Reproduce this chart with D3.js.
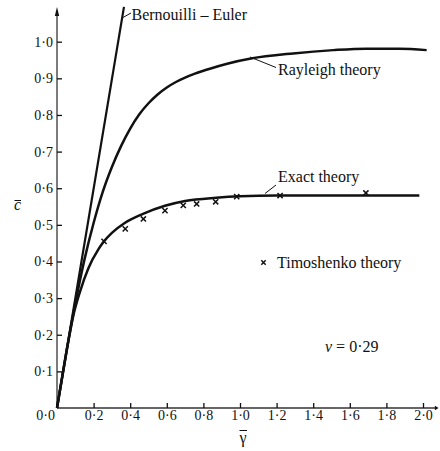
<!DOCTYPE html>
<html><head><meta charset="utf-8">
<script src="https://cdn.jsdelivr.net/npm/d3@7"></script>
<style>body{margin:0;background:#fff}svg{display:block}text{font-family:"Liberation Serif","Times New Roman",serif;fill:#111}</style>
</head><body>
<script>
// Data
const xTicks = [0.2,0.4,0.6,0.8,1.0,1.2,1.4,1.6,1.8,2.0];
const yTicks = [0.1,0.2,0.3,0.4,0.5,0.6,0.7,0.8,0.9,1.0];
const beGamma = [0, 0.366];
const beC     = [0, 1.095];
const rayGamma = [0,0.05,0.10,0.15,0.20,0.25,0.30,0.35,0.40,0.45,0.50,0.55,0.60,0.65,0.70,0.75,0.84,0.93,1.06,1.29,1.51,1.69,1.87,2.02];
const rayC     = [0,0.148,0.285,0.405,0.505,0.590,0.658,0.715,0.763,0.802,0.832,0.856,0.875,0.890,0.902,0.912,0.927,0.940,0.954,0.968,0.977,0.981,0.981,0.977];
const exGamma = [0,0.026,0.053,0.089,0.126,0.171,0.226,0.257,0.30,0.37,0.47,0.59,0.70,0.87,1.0,1.2,1.5,1.98];
const exC     = [0,0.078,0.158,0.252,0.318,0.381,0.433,0.455,0.478,0.505,0.530,0.552,0.565,0.574,0.578,0.580,0.580,0.580];
const timGamma = [0.257,0.373,0.472,0.590,0.690,0.763,0.867,0.982,1.219,1.688];
const timC     = [0.455,0.489,0.516,0.539,0.553,0.557,0.563,0.577,0.580,0.587];

const W = 440, H = 451;
const svg = d3.select("body").append("svg").attr("width", W).attr("height", H);
const x = d3.scaleLinear().domain([0, 2]).range([57, 423]);
const y = d3.scaleLinear().domain([0, 1]).range([408, 41.7]);
const fmt = v => d3.format(".1f")(v).replace(".", "·");

// axes lines with arrows
svg.append("line").attr("x1", x(0)).attr("x2", x(2.07)).attr("y1", y(0)).attr("y2", y(0))
  .attr("stroke", "#333").attr("stroke-width", 1.4);
svg.append("line").attr("x1", x(0)).attr("x2", x(0)).attr("y1", y(0)).attr("y2", y(1.07))
  .attr("stroke", "#444").attr("stroke-width", 1.4);
svg.append("path").attr("d", `M${x(0)},${y(1.095)}L${x(0)-2.2},${y(1.07)}L${x(0)+2.2},${y(1.07)}Z`).attr("fill", "#111");
svg.append("path").attr("d", `M${x(2.085)},${y(0)}L${x(2.065)},${y(0)-2.2}L${x(2.065)},${y(0)+2.2}Z`).attr("fill", "#111");

const gx = svg.append("g").attr("transform", `translate(0,${y(0)})`)
  .call(d3.axisBottom(x).tickValues(xTicks).tickSize(-5).tickPadding(2).tickFormat(fmt));
const gy = svg.append("g").attr("transform", `translate(${x(0)},0)`)
  .call(d3.axisLeft(y).tickValues(yTicks).tickSize(-5).tickPadding(4).tickFormat(fmt));
[gx, gy].forEach(g => {
  g.select(".domain").remove();
  g.selectAll(".tick line").attr("stroke", "#111").attr("stroke-width", 1.3);
  g.selectAll(".tick text").style("font-family", '"Liberation Serif",serif').style("font-size", "14px").attr("fill", "#111");
});
svg.append("text").attr("x", 55).attr("y", 420).attr("text-anchor", "end").style("font-size", "14px").text(fmt(0));

// axis titles
svg.append("text").attr("x", 17.5).attr("y", 210).attr("text-anchor", "middle").style("font-size", "16px").style("font-style", "italic").text("c");
svg.append("line").attr("x1", 14.5).attr("x2", 21).attr("y1", 200.5).attr("y2", 200.5).attr("stroke", "#111").attr("stroke-width", 1);
svg.append("text").attr("x", 243).attr("y", 443).attr("text-anchor", "middle").style("font-size", "16px").text("γ");
svg.append("line").attr("x1", 239.5).attr("x2", 247).attr("y1", 430.5).attr("y2", 430.5).attr("stroke", "#111").attr("stroke-width", 1);

// curves
const line = d3.line().x(d => x(d[0])).y(d => y(d[1])).curve(d3.curveMonotoneX);
const zip = (a, b) => a.map((v, i) => [v, b[i]]);
svg.append("path").datum(zip(beGamma, beC)).attr("d", d3.line().x(d => x(d[0])).y(d => y(d[1])))
  .attr("fill", "none").attr("stroke", "#111").attr("stroke-width", 2.2);
svg.append("path").datum(zip(rayGamma, rayC)).attr("d", line)
  .attr("fill", "none").attr("stroke", "#111").attr("stroke-width", 2.5);
svg.append("path").datum(zip(exGamma, exC)).attr("d", line)
  .attr("fill", "none").attr("stroke", "#111").attr("stroke-width", 2.5);

// Timoshenko crosses
const cross = "M-2.6,-2.6L2.6,2.6M-2.6,2.6L2.6,-2.6";
svg.append("g").selectAll("path").data(zip(timGamma, timC)).join("path")
  .attr("transform", d => `translate(${x(d[0])},${y(d[1])})`)
  .attr("d", cross).attr("stroke", "#111").attr("stroke-width", 1.5).attr("fill", "none");

// annotations
const ann = (tx, ty, s) => svg.append("text").attr("x", tx).attr("y", ty).style("font-size", "16px").text(s);
const lead = (x1, y1, x2, y2) => svg.append("line").attr("x1", x1).attr("y1", y1).attr("x2", x2).attr("y2", y2).attr("stroke", "#111").attr("stroke-width", 1);
ann(131.5, 20, "Bernouilli – Euler");
lead(122, 18, 131, 13);
ann(278, 75, "Rayleigh theory");
lead(250, 57, 276, 67.5);
ann(278, 182, "Exact theory");
lead(265, 193.5, 276, 185);
svg.append("path").attr("transform", "translate(263.5,262.5)").attr("d", "M-2.2,-2.2L2.2,2.2M-2.2,2.2L2.2,-2.2")
  .attr("stroke", "#111").attr("stroke-width", 1.5);
ann(277, 268, "Timoshenko theory");
const nu = svg.append("text").attr("x", 325).attr("y", 352).style("font-size", "16px");
nu.append("tspan").style("font-style", "italic").text("ν");
nu.append("tspan").text(" = 0·29");
</script>
</body></html>
